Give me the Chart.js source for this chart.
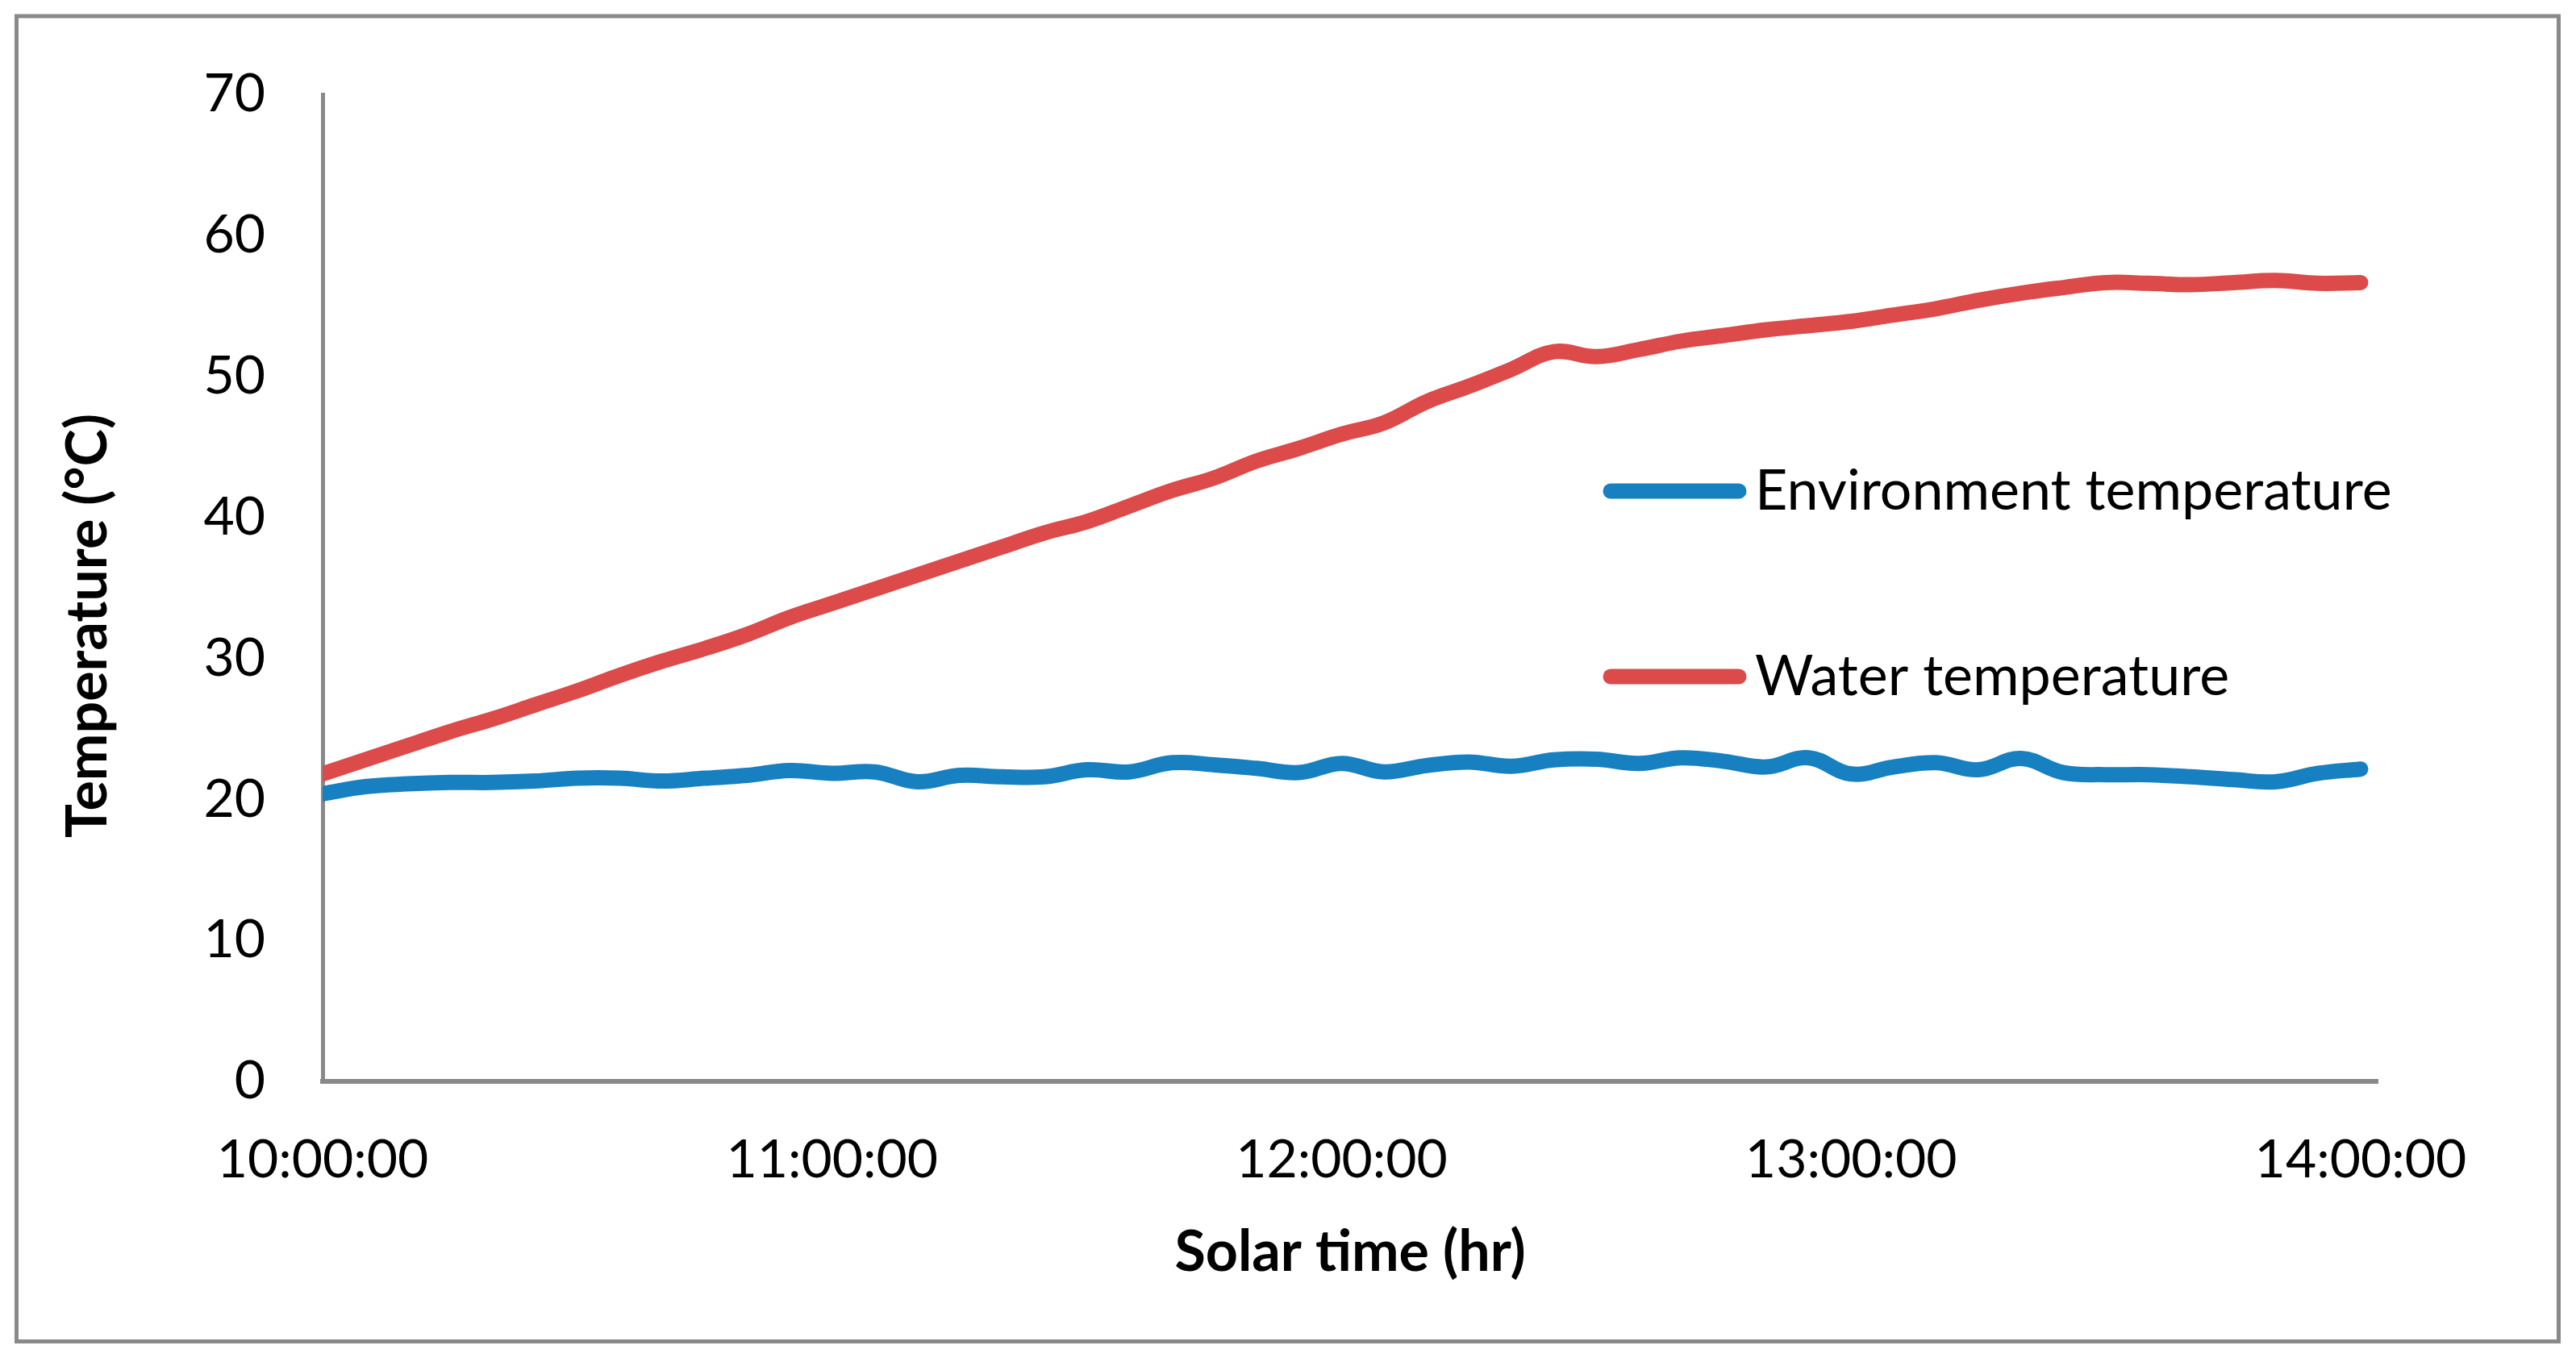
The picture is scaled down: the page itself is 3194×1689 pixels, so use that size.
<!DOCTYPE html>
<html lang="en">
<head>
    <meta charset="UTF-8">
    <title>Solar water heater temperatures</title>
    <script src="https://cdn.jsdelivr.net/npm/chart.js"></script>
    <style>
        html, body { margin: 0; padding: 0; background: #fff; }
        canvas { display: block; }
    </style>
</head>
<body>
    <canvas id="tempChart" width="3194" height="1689"></canvas>
    <script>
        // Readings every 5 minutes, 10:00:00 - 14:00:00
        const times = [
            '10:00:00', '10:05:00', '10:10:00', '10:15:00', '10:20:00', '10:25:00', '10:30:00',
            '10:35:00', '10:40:00', '10:45:00', '10:50:00', '10:55:00', '11:00:00', '11:05:00',
            '11:10:00', '11:15:00', '11:20:00', '11:25:00', '11:30:00', '11:35:00', '11:40:00',
            '11:45:00', '11:50:00', '11:55:00', '12:00:00', '12:05:00', '12:10:00', '12:15:00',
            '12:20:00', '12:25:00', '12:30:00', '12:35:00', '12:40:00', '12:45:00', '12:50:00',
            '12:55:00', '13:00:00', '13:05:00', '13:10:00', '13:15:00', '13:20:00', '13:25:00',
            '13:30:00', '13:35:00', '13:40:00', '13:45:00', '13:50:00', '13:55:00', '14:00:00'
        ];
        const environmentTemp = [
            20.4, 20.9, 21.1, 21.2, 21.2, 21.3, 21.5, 21.5, 21.3, 21.5, 21.7, 22.05, 21.85,
            21.95, 21.25, 21.7, 21.6, 21.6, 22.1, 21.95, 22.6, 22.45, 22.2, 21.9, 22.55,
            21.95, 22.4, 22.65, 22.35, 22.8, 22.85, 22.55, 22.95, 22.7, 22.3, 22.95, 21.8,
            22.3, 22.6, 22.1, 22.9, 21.9, 21.75, 21.75, 21.6, 21.4, 21.25, 21.85, 22.15
        ];
        const waterTemp = [
            21.8, 22.8, 23.8, 24.8, 25.7, 26.7, 27.7, 28.8, 29.8, 30.7, 31.7, 32.9, 33.9,
            34.9, 35.9, 36.9, 37.9, 38.9, 39.7, 40.8, 41.9, 42.8, 44.0, 44.9, 45.9,
            46.7, 48.2, 49.3, 50.5, 51.75, 51.4, 51.9, 52.5, 52.9, 53.3, 53.6, 53.9,
            54.35, 54.8, 55.4, 55.9, 56.3, 56.65, 56.6, 56.5, 56.65, 56.8, 56.6, 56.65
        ];
        const xTickLabels = ['10:00:00', '11:00:00', '12:00:00', '13:00:00', '14:00:00'];
        const seriesNames = ['Environment temperature', 'Water temperature'];
        const seriesColors = ['#1780C0', '#DC4A4A'];

        const toMinutes = t => {
            const p = t.split(':').map(Number);
            return (p[0] - 10) * 60 + p[1] + p[2] / 60;
        };
        const pairs = vals => times.map((t, i) => ({ x: toMinutes(t), y: vals[i] }));

        const AXIS_GREY = '#898989';
        const FONT = 'Lato';

        // frame round the whole picture
        const framePlugin = {
            id: 'frame',
            beforeDraw(chart) {
                const ctx = chart.ctx;
                ctx.save();
                ctx.fillStyle = '#fff';
                ctx.fillRect(0, 0, chart.width, chart.height);
                ctx.strokeStyle = AXIS_GREY;
                ctx.lineWidth = 5;
                ctx.strokeRect(20.5, 20, 3152, 1643.5);
                ctx.restore();
            }
        };

        // legend inside the plot + axis titles, placed like the original
        const annotatePlugin = {
            id: 'annotate',
            afterDraw(chart) {
                const ctx = chart.ctx;
                ctx.save();
                const rows = [609, 839];
                chart.data.datasets.forEach((ds, i) => {
                    const y = rows[i];
                    ctx.strokeStyle = ds.borderColor;
                    ctx.lineWidth = 19;
                    ctx.lineCap = 'round';
                    ctx.beginPath();
                    ctx.moveTo(1997, y);
                    ctx.lineTo(2156, y);
                    ctx.stroke();
                    ctx.fillStyle = '#000';
                    ctx.font = '70px ' + FONT;
                    ctx.textAlign = 'left';
                    ctx.textBaseline = 'alphabetic';
                    ctx.fillText(ds.label, 2176, y + 23);
                });

                ctx.fillStyle = '#000';
                ctx.font = 'bold 70px ' + FONT;
                ctx.textAlign = 'center';
                ctx.textBaseline = 'alphabetic';
                ctx.fillText('Solar time (hr)', 1674, 1576);

                ctx.translate(132, 776);
                ctx.rotate(-Math.PI / 2);
                ctx.fillText('Temperature (°C)', 0, 0);
                ctx.restore();
            }
        };

        new Chart(document.getElementById('tempChart'), {
            type: 'line',
            data: {
                datasets: [
                    {
                        label: seriesNames[0],
                        data: pairs(environmentTemp),
                        borderColor: seriesColors[0],
                        borderWidth: 19,
                        borderCapStyle: 'round',
                        borderJoinStyle: 'round',
                        pointRadius: 0,
                        tension: 0.4,
                        clip: 0
                    },
                    {
                        label: seriesNames[1],
                        data: pairs(waterTemp),
                        borderColor: seriesColors[1],
                        borderWidth: 19,
                        borderCapStyle: 'round',
                        borderJoinStyle: 'round',
                        pointRadius: 0,
                        tension: 0.4,
                        clip: 0
                    }
                ]
            },
            options: {
                responsive: false,
                animation: false,
                devicePixelRatio: 1,
                layout: { padding: { top: 117, right: 246, left: 0, bottom: 0 } },
                plugins: {
                    legend: { display: false },
                    tooltip: { enabled: false }
                },
                scales: {
                    x: {
                        type: 'linear',
                        min: 0,
                        max: 242,
                        grid: { display: false, drawTicks: false },
                        border: { display: true, color: AXIS_GREY, width: 6 },
                        afterBuildTicks: s => {
                            s.ticks = xTickLabels.map(l => ({ value: toMinutes(l) }));
                        },
                        ticks: {
                            autoSkip: false,
                            maxRotation: 0,
                            padding: 58,
                            color: '#000',
                            font: { family: FONT, size: 66 },
                            callback: (v, i) => xTickLabels[i]
                        },
                        afterFit: s => { s.height = 348; }
                    },
                    y: {
                        min: 0,
                        max: 70,
                        grid: { display: false, drawTicks: false },
                        border: { display: true, color: AXIS_GREY, width: 5 },
                        ticks: {
                            stepSize: 10,
                            padding: 71,
                            color: '#000',
                            font: { family: FONT, size: 66 }
                        },
                        afterFit: s => { s.width = 400; }
                    }
                }
            },
            plugins: [framePlugin, annotatePlugin]
        });
    </script>
</body>
</html>
